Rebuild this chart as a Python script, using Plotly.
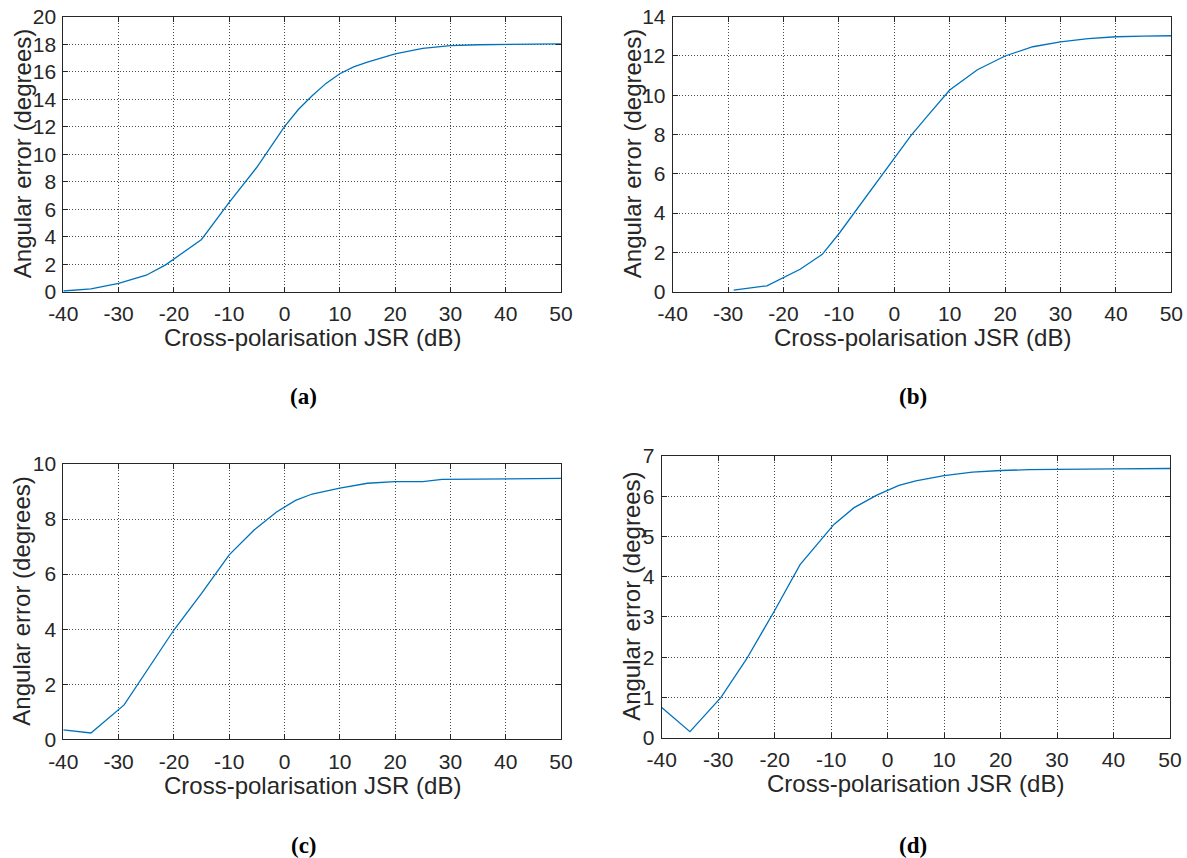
import plotly.graph_objects as go

# Angular error versus cross-polarisation JSR for four configurations
jsr_a = [-40, -35, -30, -25, -21.5, -15, -10, -5, 0, 2.5, 5, 7.5, 10, 12.5, 15, 20, 25, 30, 35, 40, 45, 50]
err_a = [0.05, 0.2, 0.6, 1.2, 1.95, 3.8, 6.5, 9.05, 12.0, 13.25, 14.25, 15.15, 15.85, 16.35, 16.7, 17.3, 17.7, 17.9, 17.96, 18.0, 18.01, 18.02]

jsr_b = [-29, -23, -17, -13, -10, -6, -3, 0, 3, 6, 10, 15, 20, 25, 30, 35, 40, 45, 50]
err_b = [0.08, 0.3, 1.14, 1.9, 2.95, 4.5, 5.65, 6.8, 7.95, 8.95, 10.27, 11.3, 12.0, 12.47, 12.72, 12.88, 12.98, 13.01, 13.03]

jsr_c = [-40, -35, -29, -25, -20, -15, -10, -5.5, -1.5, 2, 5, 10, 15, 20, 25, 28.5, 35, 40, 45, 50]
err_c = [0.34, 0.23, 1.25, 2.45, 3.97, 5.3, 6.7, 7.6, 8.25, 8.68, 8.91, 9.12, 9.3, 9.36, 9.36, 9.44, 9.46, 9.47, 9.48, 9.48]

jsr_d = [-40, -35, -29.5, -25, -20, -15.5, -9.5, -6, -2, 2, 5, 10, 15, 20, 25, 30, 40, 50]
err_d = [0.75, 0.15, 1.0, 1.95, 3.16, 4.3, 5.3, 5.71, 6.02, 6.27, 6.38, 6.51, 6.6, 6.64, 6.66, 6.67, 6.68, 6.69]

x_ticks = [-40, -30, -20, -10, 0, 10, 20, 30, 40, 50]
x_tick_text = ["-40", "-30", "-20", "-10", "0", "10", "20", "30", "40", "50"]
y_ranges = [[0, 20], [0, 14], [0, 10], [0, 7]]
y_dticks = [2, 2, 2, 1]
panel_labels = ["(a)", "(b)", "(c)", "(d)"]
x_title = "Cross-polarisation JSR (dB)"
y_title = "Angular error (degrees)"

W, H = 1187, 858
# plot-area rectangles in pixels: left, right, top, bottom
boxes = [
    (63.3, 561.0, 16.7, 291.7),
    (672.7, 1171.3, 16.7, 291.7),
    (63.3, 561.0, 464.0, 739.3),
    (661.7, 1170.0, 456.0, 737.7),
]
ytitle_x = [22, 632, 22, 632]
label_pos = [(304, 397), (913, 397), (304, 845), (913, 845)]

LINE = "#0072BD"
AX = "#262626"
FONT = "Liberation Sans, Arial, Helvetica, sans-serif"

fig = go.Figure()
data = [(jsr_a, err_a), (jsr_b, err_b), (jsr_c, err_c), (jsr_d, err_d)]
annotations = []
for i, ((xs, ys), (l, r, t, b)) in enumerate(zip(data, boxes)):
    n = "" if i == 0 else str(i + 1)
    fig.add_trace(go.Scatter(x=xs, y=ys, mode="lines", xaxis="x" + n, yaxis="y" + n,
                             line=dict(color=LINE, width=1.3), showlegend=False))
    common = dict(showline=True, linecolor=AX, linewidth=1, mirror="ticks",
                  ticks="inside", ticklen=5, tickcolor=AX, tickwidth=1,
                  showgrid=True, gridcolor="rgba(30,30,30,0.8)", griddash="1px,2px", gridwidth=1,
                  zeroline=False, automargin=False,
                  tickfont=dict(family=FONT, size=21, color=AX))
    fig.layout["xaxis" + n] = dict(domain=[l / W, r / W], anchor="y" + n, range=[-40, 50],
                                   tickmode="array", tickvals=x_ticks, ticktext=x_tick_text,
                                   ticklabelstandoff=3, **common)
    fig.layout["yaxis" + n] = dict(domain=[1 - b / H, 1 - t / H], anchor="x" + n,
                                   range=y_ranges[i], dtick=y_dticks[i], tick0=0,
                                   ticklabelstandoff=2, **common)
    annotations.append(dict(text=x_title, x=(l + r) / 2 / W, y=1 - (b + 46) / H,
                            xref="paper", yref="paper", showarrow=False,
                            font=dict(family=FONT, size=24, color=AX),
                            xanchor="center", yanchor="middle"))
    annotations.append(dict(text=y_title, x=ytitle_x[i] / W, y=1 - (t + b) / 2 / H,
                            xref="paper", yref="paper", showarrow=False, textangle=-90,
                            font=dict(family=FONT, size=24, color=AX),
                            xanchor="center", yanchor="middle"))
    lx, ly = label_pos[i]
    annotations.append(dict(text="<b>" + panel_labels[i] + "</b>", x=lx / W, y=1 - ly / H,
                            xref="paper", yref="paper", showarrow=False,
                            font=dict(family="Liberation Serif, Times New Roman, serif", size=23, color="black"),
                            xanchor="center", yanchor="middle"))

fig.update_layout(template="none", width=W, height=H, margin=dict(l=0, r=0, t=0, b=0),
                  paper_bgcolor="white", plot_bgcolor="white",
                  annotations=annotations)
fig.write_html("out.html")
